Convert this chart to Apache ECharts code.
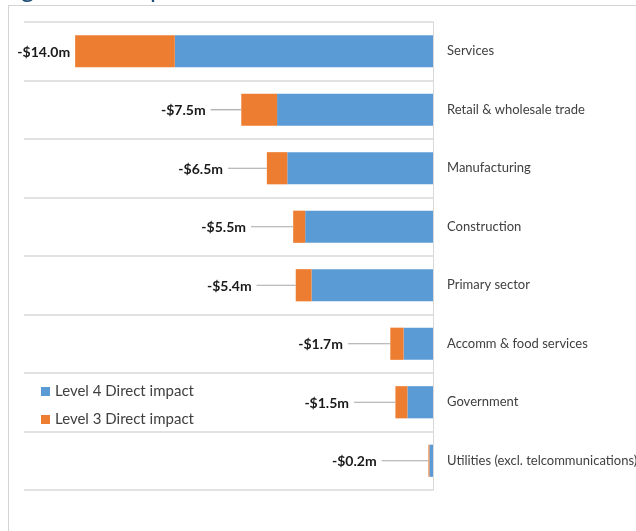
<!DOCTYPE html>
<html>
<head>
<meta charset="utf-8">
<script src="https://cdn.jsdelivr.net/npm/echarts@6/dist/echarts.min.js"></script>
<style>html,body{margin:0;padding:0;background:#fff}#c{width:636px;height:531px}</style>
</head>
<body>
<div id="c"></div>
<script>
const categories = ['Services','Retail & wholesale trade','Manufacturing','Construction','Primary sector','Accomm & food services','Government','Utilities (excl. telcommunications)'];
const level4 = [10.1, 6.1, 5.7, 5.0, 4.75, 1.15, 1.0, 0.14];
const level3 = [3.9, 1.4, 0.8, 0.47, 0.62, 0.52, 0.47, 0.04];
const labelAnchor = [14.0, 8.70, 8.02, 7.12, 6.90, 3.33, 3.09, 2.01];

const totals = level4.map((v, i) => v + level3[i]);
const FONT = 'Lato, "Open Sans", sans-serif';

const chart = echarts.init(document.getElementById('c'), null, {renderer: 'canvas'});
chart.setOption({
  animation: false,
  backgroundColor: '#fff',
  grid: {left: 24, right: 203, top: 22, bottom: 41, containLabel: false, outerBoundsMode: 'none'},
  xAxis: {type: 'value', min: -16, max: 0, show: false},
  yAxis: {
    type: 'category', data: categories, inverse: true, position: 'right',
    axisLine: {show: true, onZero: false, lineStyle: {color: '#d9d9d9', width: 1}},
    axisTick: {show: false},
    axisLabel: {margin: 14, color: '#404040', fontSize: 13, fontFamily: FONT},
    splitLine: {show: true, lineStyle: {color: '#d9d9d9', width: 1.5}}
  },
  legend: {
    orient: 'vertical', left: 36, top: 379, itemWidth: 9, itemHeight: 9, itemGap: 13,
    icon: 'rect', data: ['Level 4 Direct impact', 'Level 3 Direct impact'],
    textStyle: {color: '#404040', fontSize: 15, fontFamily: FONT}
  },
  graphic: [
    {type: 'line', shape: {x1: 8, y1: 5.5, x2: 636, y2: 5.5}, style: {stroke: '#d4d4d4', lineWidth: 1}},
    {type: 'line', shape: {x1: 8.5, y1: 5, x2: 8.5, y2: 531}, style: {stroke: '#d4d4d4', lineWidth: 1}},
    {type: 'text', left: 0, top: -24, style: {text: 'Figure 10: Impact on sectors', font: '26px ' + FONT, fill: '#1f4e79'}}
  ],
  series: [
    {name: 'Level 4 Direct impact', type: 'bar', stack: 'total', barWidth: '55%',
     itemStyle: {color: '#5b9bd5'}, data: level4.map(v => -v)},
    {name: 'Level 3 Direct impact', type: 'bar', stack: 'total', barWidth: '55%',
     itemStyle: {color: '#ed7d31'}, data: level3.map(v => -v)},
    {type: 'custom', coordinateSystem: 'cartesian2d', clip: false, z: 5,
     encode: {x: 0, y: 1},
     data: labelAnchor.map((a, i) => [-a, i, -totals[i]]),
     renderItem: function (params, api) {
       const idx = api.value(1);
       const pA = api.coord([api.value(0), idx]);
       const pB = api.coord([api.value(2), idx]);
       const children = [];
       if (pB[0] - pA[0] > 2) {
         children.push({type: 'line', shape: {x1: pA[0], y1: pA[1], x2: pB[0], y2: pB[1]},
           style: {stroke: '#a6a6a6', lineWidth: 1.2}});
       }
       children.push({type: 'text', style: {
         text: '-$' + totals[idx].toFixed(1) + 'm', x: pA[0] - 5, y: pA[1] + 1,
         align: 'right', verticalAlign: 'middle', font: 'bold 14px ' + FONT, fill: '#1a1a1a'}});
       return {type: 'group', children: children};
     }}
  ]
});
</script>
</body>
</html>
